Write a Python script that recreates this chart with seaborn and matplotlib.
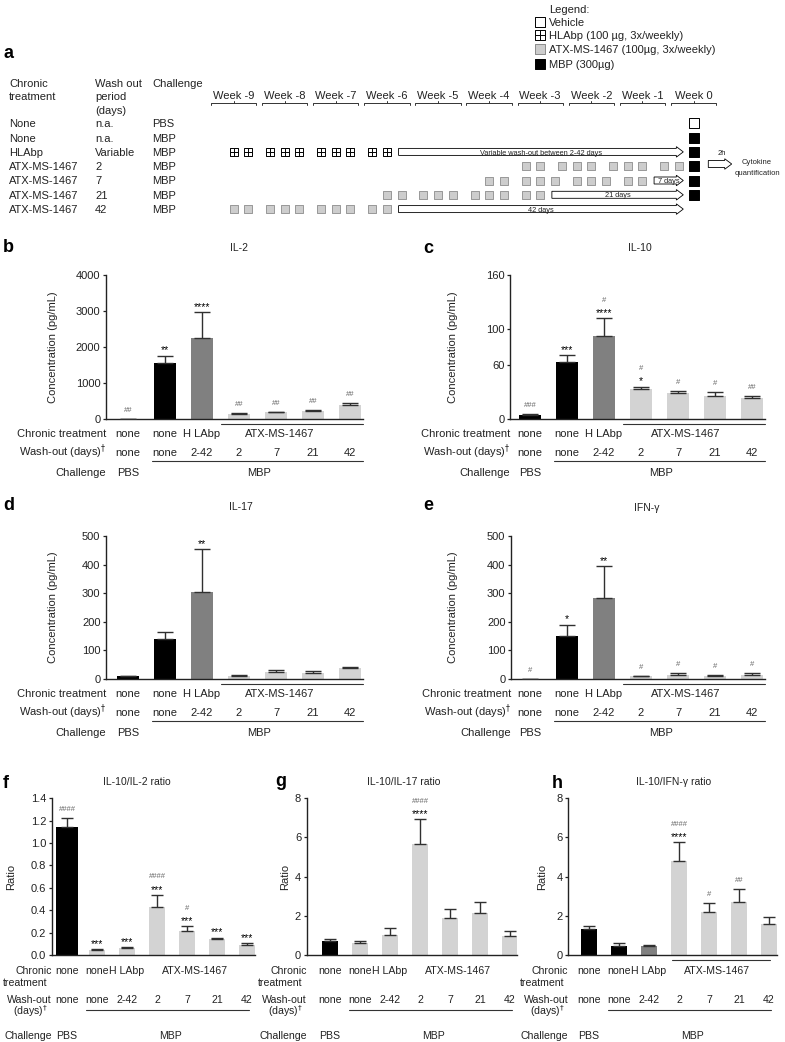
import numpy as np
import pandas as pd
import matplotlib
matplotlib.use("Agg")
import matplotlib.pyplot as plt
import matplotlib.transforms as mtransforms
from matplotlib.patches import FancyArrow
import seaborn as sns

# ---------------------------------------------------------------- data
groups = ["PBS", "none", "HLAbp", "ATX 2d", "ATX 7d", "ATX 21d", "ATX 42d"]
chronic_labels = ["none", "none", "H LAbp", "", "", "", ""]
washout_labels = ["none", "none", "2-42", "2", "7", "21", "42"]

il2_mean = [5, 1560, 2260, 150, 190, 215, 380]
il2_sem = [0, 200, 700, 25, 15, 30, 60]
il10_mean = [5, 63, 92, 33, 28.5, 25.5, 23]
il10_sem = [0.5, 8, 20, 3, 3, 4.5, 3]
il17_mean = [10, 139, 305, 11, 25, 20, 37]
il17_sem = [1, 26, 150, 3, 6, 7, 6]
ifng_mean = [1, 152, 284, 9, 12.5, 11.5, 14]
ifng_sem = [0, 38, 112, 3, 8, 3.5, 7]
r_il2_mean = [1.14, 0.045, 0.06, 0.43, 0.217, 0.14, 0.09]
r_il2_sem = [0.085, 0.01, 0.014, 0.105, 0.04, 0.015, 0.02]
r_il17_mean = [0.72, 0.60, 1.02, 5.66, 1.90, 2.13, 0.97]
r_il17_sem = [0.10, 0.13, 0.34, 1.26, 0.43, 0.59, 0.27]
r_ifng_mean = [1.31, 0.47, 0.47, 4.81, 2.18, 2.69, 1.57]
r_ifng_sem = [0.19, 0.16, 0.06, 0.94, 0.46, 0.69, 0.35]

il2_stars = ["", "**", "****", "", "", "", ""]
il2_hash = ["##", "", "", "##", "##", "##", "##"]
il10_stars = ["", "***", "****", "*", "", "", ""]
il10_hash = ["###", "", "#", "#", "#", "#", "##"]
il17_stars = ["", "", "**", "", "", "", ""]
il17_hash = ["", "", "", "", "", "", ""]
ifng_stars = ["", "*", "**", "", "", "", ""]
ifng_hash = ["#", "", "", "#", "#", "#", "#"]
r_il2_stars = ["", "***", "***", "***", "***", "***", "***"]
r_il2_hash = ["####", "", "", "####", "#", "", ""]
r_il17_stars = ["", "", "", "****", "", "", ""]
r_il17_hash = ["", "", "", "####", "", "", ""]
r_ifng_stars = ["", "", "", "****", "", "", ""]
r_ifng_hash = ["", "", "", "####", "#", "##", ""]

# schedule (panel a)
weeks = list(range(-9, 1))
sched_treatment = ["None", "None", "HLAbp", "ATX-MS-1467", "ATX-MS-1467", "ATX-MS-1467", "ATX-MS-1467"]
sched_washout = ["n.a.", "n.a.", "Variable", "2", "7", "21", "42"]
sched_challenge = ["PBS", "MBP", "MBP", "MBP", "MBP", "MBP", "MBP"]
dose_pattern = [0, 2, 5, 7, 9, 12, 14, 16, 19, 21]       # days before last dose
last_dose_day = [None, None, -42, -2, -7, -21, -42]
dose_kind = [None, None, "HLAbp", "ATX", "ATX", "ATX", "ATX"]
washout_text = [None, None, "Variable wash-out between 2-42 days", None,
                "7 days", "21 days", "42 days"]
challenge_kind = ["Vehicle", "MBP", "MBP", "MBP", "MBP", "MBP", None]
legend_items = ["Vehicle", "HLAbp (100 µg, 3x/weekly)",
                "ATX-MS-1467 (100µg, 3x/weekly)", "MBP (300µg)"]

# ---------------------------------------------------------------- style
sns.set_theme(style="white")
plt.rcParams['font.family'] = ['Liberation Sans', 'DejaVu Sans']
plt.rcParams['mathtext.fontset'] = 'dejavusans'

BLACK, DARK, LIGHT = "#000000", "#808080", "#d3d3d3"
SQ_ATX = "#cdcdcd"
INK = "#222222"
W, H = 785, 1042
PT = 100 / 72

fig = plt.figure(figsize=(W / 100, H / 100), dpi=100)
fig.patch.set_facecolor("white")

ax_px = fig.add_axes([0, 0, 1, 1], zorder=10)
ax_px.set_xlim(0, W)
ax_px.set_ylim(H, 0)
ax_px.axis("off")


def put(x, yc, s, size=8, tr=None, ax=None, **kw):
    a = ax_px if ax is None else ax
    tr = a.transData if tr is None else tr
    kw.setdefault("color", INK)
    return a.text(x, yc + 0.36 * size * PT, s, fontsize=size, va="baseline",
                  transform=tr, **kw)


# ---------------------------------------------------------------- panel a
ax_a = fig.add_axes([0, 1 - 230 / H, 1, 230 / H])
ax_a.set_xlim(-693.5 / 7.3, (W - 693.5) / 7.3)
ax_a.set_ylim(230, 0)
ax_a.axis("off")

row_y = [123.3 + 14.3 * i for i in range(7)]
put(9, 82.7, "Chronic"); put(9, 95.7, "treatment")
put(95, 82.7, "Wash out"); put(95, 95.9, "period"); put(95, 109.5, "(days)")
put(152, 82.7, "Challenge")
for i in range(7):
    put(9, row_y[i], sched_treatment[i])
    put(95, row_y[i], sched_washout[i])
    put(152, row_y[i], sched_challenge[i])

for w in weeks:
    c = 7 * w
    put(c, 95, f"Week {w}", tr=ax_a.transData, ax=ax_a, ha="center")
    ax_a.plot([c - 3.1, c - 3.1, c + 3.1, c + 3.1], [104.8, 102.5, 102.5, 104.8],
              color="#333333", lw=0.7)
    ax_a.plot([c, c], [102.5, 100.6], color="#333333", lw=0.7)

SQ = 32
for i in range(7):
    if last_dose_day[i] is None:
        continue
    xs = [last_dose_day[i] - d for d in dose_pattern]
    ys = [row_y[i]] * len(xs)
    if dose_kind[i] == "HLAbp":
        ax_a.scatter(xs, ys, marker="s", s=SQ, facecolor="white", edgecolor="black",
                     linewidth=0.7, zorder=3)
        ax_a.scatter(xs, ys, marker="+", s=SQ, color="black", linewidth=0.7, zorder=4)
    else:
        ax_a.scatter(xs, ys, marker="s", s=SQ, facecolor=SQ_ATX, edgecolor="#8c8c8c",
                     linewidth=0.6, zorder=3)

for i in range(7):
    t = washout_text[i]
    if t is None:
        continue
    start, end = last_dose_day[i] + 1.6, -1.4
    ax_a.add_patch(FancyArrow(start, row_y[i], end - start, 0, width=7, head_width=10.5,
                              head_length=0.95, length_includes_head=True,
                              facecolor="white", edgecolor="black", linewidth=0.6,
                              zorder=2))
    put((start + end) / 2, row_y[i], t, size=5.3, tr=ax_a.transData, ax=ax_a,
        ha="center", zorder=5)

for i in range(7):
    k = challenge_kind[i]
    if k is None:
        continue
    ax_a.scatter([0], [row_y[i]], marker="s", s=42,
                 facecolor="white" if k == "Vehicle" else "black",
                 edgecolor="black", linewidth=0.7, zorder=3)

# 2h arrow + readout
ax_px.add_patch(FancyArrow(708.3, 164, 23.4, 0, width=7, head_width=10.5, head_length=7,
                           length_includes_head=True, facecolor="white",
                           edgecolor="black", linewidth=0.6))
put(722, 152, "2h", size=5.5, ha="center")
put(757, 161.7, "Cytokine", size=5.5, ha="center")
put(757, 172.3, "quantification", size=5.5, ha="center")

# legend
leg_y = [21.5, 35, 49, 63.5]
put(549, 9, "Legend:")
leg_fc = ["white", "white", SQ_ATX, "black"]
leg_ec = ["black", "black", "#8c8c8c", "black"]
for j, lab in enumerate(legend_items):
    ax_px.scatter([540], [leg_y[j]], marker="s", s=46, facecolor=leg_fc[j],
                  edgecolor=leg_ec[j], linewidth=0.7, zorder=3)
    if j == 1:
        ax_px.scatter([540], [leg_y[j]], marker="+", s=46, color="black",
                      linewidth=0.7, zorder=4)
    put(549, leg_y[j], lab)

# ---------------------------------------------------------------- bar panels
def bar_panel(box, cat0, step, vals, errs, colors, widths, ylim, yticks, yticklabels,
              stars, hashes, capsize):
    x0, x1, top, bot = box
    ax = fig.add_axes([x0 / W, 1 - bot / H, (x1 - x0) / W, (bot - top) / H])
    df = pd.DataFrame({"group": groups, "value": vals, "width": widths})
    pal = dict(zip(groups, colors))
    for wv in sorted(set(widths), reverse=True):
        sub = df[df["width"] == wv]
        sns.barplot(data=sub, x="group", y="value", hue="group", order=groups,
                    hue_order=groups, palette=pal, width=wv, saturation=1,
                    errorbar=None, legend=False, linewidth=0, ax=ax)
    pos = np.arange(len(groups))
    ax.errorbar(pos, vals, yerr=[np.zeros(len(vals)), errs], fmt="none",
                ecolor="#303030", elinewidth=1.0, capsize=capsize, capthick=1.0,
                zorder=3)
    ax.set_xlim((x0 - cat0) / step, (x1 - cat0) / step)
    ax.set_ylim(*ylim)
    ax.set_xticks([])
    ax.set_yticks(yticks)
    ax.set_yticklabels(yticklabels)
    ax.set_xlabel("")
    ax.set_ylabel("")
    ax.tick_params(axis="y", left=True, length=2.5, width=0.9, pad=1.5,
                   labelsize=8, colors=INK)
    sns.despine(ax=ax)
    for sp in ("left", "bottom"):
        ax.spines[sp].set_linewidth(1.0)
        ax.spines[sp].set_color(INK)
    ax.set_facecolor("none")
    for i in range(len(groups)):
        top_v = vals[i] + errs[i]
        if stars[i]:
            ax.annotate(stars[i], (i, top_v), xytext=(0, 1.5), textcoords="offset points",
                        ha="center", va="baseline", fontsize=7.5, color="black")
        if hashes[i]:
            off = 12.0 if stars[i] else 5.0
            ax.annotate(hashes[i], (i, top_v), xytext=(0, off), textcoords="offset points",
                        ha="center", va="baseline", fontsize=5.5, color="#666666")
    return ax


def table_wide(ax, bot, atx_x, mbp_x):
    bx = mtransforms.blended_transform_factory(ax.transData, ax_px.transData)
    ba = mtransforms.blended_transform_factory(ax.transAxes, ax_px.transData)
    r1, r2, r3 = bot + 14.3, bot + 32.7, bot + 52.7
    put(0.0, r1, "Chronic treatment", tr=ba, ha="right")
    put(0.0, r2, r"Wash-out (days)$^{\dagger}$", tr=ba, ha="right")
    put(0.0, r3, "Challenge", tr=ba, ha="right")
    for i in range(len(groups)):
        if chronic_labels[i]:
            put(i, r1, chronic_labels[i], tr=bx, ha="center")
        put(i, r2, washout_labels[i], tr=bx, ha="center")
    put(atx_x, r1, "ATX-MS-1467", tr=bx, ha="center")
    put(0, r3, "PBS", tr=bx, ha="center")
    put(mbp_x, r3, "MBP", tr=bx, ha="center")
    xr = ax.get_xlim()[1]
    ax_px.plot([2.5, xr], [bot + 5.3] * 2, transform=bx, color="#333333", lw=0.8,
               clip_on=False)
    ax_px.plot([0.64, xr], [bot + 42] * 2, transform=bx, color="#333333", lw=0.8,
               clip_on=False)


def table_narrow(ax, bot, atx_line):
    bx = mtransforms.blended_transform_factory(ax.transData, ax_px.transData)
    ba = mtransforms.blended_transform_factory(ax.transAxes, ax_px.transData)
    ba2 = mtransforms.offset_copy(ba, fig=fig, x=-4, y=0, units="dots")
    fs = 7.6
    put(0.0, bot + 15.3, "Chronic", tr=ba, ha="right", size=fs)
    put(0.0, bot + 27.3, "treatment", tr=ba2, ha="right", size=fs)
    put(0.0, bot + 44.3, "Wash-out", tr=ba, ha="right", size=fs)
    put(0.0, bot + 56.3, r"(days)$^{\dagger}$", tr=ba2, ha="right", size=fs)
    put(0.0, bot + 80.0, "Challenge", tr=ba, ha="right", size=fs)
    for i in range(len(groups)):
        if chronic_labels[i]:
            put(i, bot + 15.3, chronic_labels[i], tr=bx, ha="center", size=fs)
        put(i, bot + 44.3, washout_labels[i], tr=bx, ha="center", size=fs)
    put(4.27, bot + 15.3, "ATX-MS-1467", tr=bx, ha="center", size=fs)
    put(0, bot + 80.0, "PBS", tr=bx, ha="center", size=fs)
    put(3.45, bot + 80.0, "MBP", tr=bx, ha="center", size=fs)
    ax_px.plot([0.62, 6.08], [bot + 55] * 2, transform=bx, color="#333333", lw=0.8,
               clip_on=False)
    if atx_line:
        ax_px.plot([2.76, 6.03], [bot + 5] * 2, transform=bx, color="#333333", lw=0.8,
                   clip_on=False)


cols_cyt = [BLACK, BLACK, DARK, LIGHT, LIGHT, LIGHT, LIGHT]
cols_fg = [BLACK, LIGHT, LIGHT, LIGHT, LIGHT, LIGHT, LIGHT]
w_wide = [0.6] * 7
w_nar = [0.53] * 7
w_f = [0.72] + [0.53] * 6

ax_b = bar_panel((106, 363, 275, 419), 128, 37, il2_mean, il2_sem, cols_cyt, w_wide,
                 (0, 4000), [0, 1000, 2000, 3000, 4000],
                 ["0", "1000", "2000", "3000", "4000"], il2_stars, il2_hash, 5.5)
table_wide(ax_b, 419, 4.1, 3.55)
ax_c = bar_panel((510, 765, 275, 419), 530, 37, il10_mean, il10_sem, cols_cyt, w_wide,
                 (0, 160), [0, 60, 100, 160], ["0", "60", "100", "160"],
                 il10_stars, il10_hash, 5.5)
table_wide(ax_c, 419, 4.2, 3.55)
ax_d = bar_panel((106, 363, 536, 679), 128, 37, il17_mean, il17_sem, cols_cyt, w_wide,
                 (0, 500), [0, 100, 200, 300, 400, 500],
                 ["0", "100", "200", "300", "400", "500"], il17_stars, il17_hash, 5.5)
table_wide(ax_d, 679, 4.1, 3.55)
ax_e = bar_panel((511, 765, 536, 679), 530, 37, ifng_mean, ifng_sem, cols_cyt, w_wide,
                 (0, 500), [0, 100, 200, 300, 400, 500],
                 ["0", "100", "200", "300", "400", "500"], ifng_stars, ifng_hash, 5.5)
table_wide(ax_e, 679, 4.2, 3.55)

f_ticks = [0, 0.2, 0.4, 0.6, 0.8, 1.0, 1.2, 1.4]
ax_f = bar_panel((51.7, 255, 798.3, 955), 67, 30, r_il2_mean, r_il2_sem, cols_fg, w_f,
                 (0, 1.4), f_ticks, [f"{v:.1f}" for v in f_ticks],
                 r_il2_stars, r_il2_hash, 4.0)
table_narrow(ax_f, 955, False)
ax_g = bar_panel((306.7, 516.7, 798.3, 955), 330, 30, r_il17_mean, r_il17_sem, cols_fg,
                 w_nar, (0, 8), [0, 2, 4, 6, 8], ["0", "2", "4", "6", "8"],
                 r_il17_stars, r_il17_hash, 4.0)
table_narrow(ax_g, 955, False)
ax_h = bar_panel((568.3, 777, 798.3, 955), 589, 30, r_ifng_mean, r_ifng_sem, cols_cyt,
                 w_nar, (0, 8), [0, 2, 4, 6, 8], ["0", "2", "4", "6", "8"],
                 r_ifng_stars, r_ifng_hash, 4.0)
table_narrow(ax_h, 955, True)

# y labels
for x, y in [(52.5, 347), (453, 347), (52.5, 607.5), (453, 607.5)]:
    ax_px.text(x, y, "Concentration (pg/mL)", rotation=90, ha="center", va="center",
               fontsize=8, color=INK)
for x in (11, 285, 542):
    ax_px.text(x, 876.6, "Ratio", rotation=90, ha="center", va="center", fontsize=8,
               color=INK)

# titles
for x, y, s in [(239, 247.7, "IL-2"), (640, 247.2, "IL-10"), (241, 506.7, "IL-17"),
                (647, 507.5, "IFN-γ"), (137, 781.7, "IL-10/IL-2 ratio"),
                (404, 781.7, "IL-10/IL-17 ratio"), (674, 781.7, "IL-10/IFN-γ ratio")]:
    put(x, y, s, size=7.5, ha="center")

# panel letters
for x, yb, s in [(4, 58, "a"), (3, 252, "b"), (423, 253, "c"), (3, 510, "d"),
                 (423, 510, "e"), (3, 788, "f"), (275, 786, "g"), (552, 788, "h")]:
    ax_px.text(x, yb, s, fontsize=13, fontweight="bold", va="baseline", ha="left",
               color="black")

fig.savefig("out.png", dpi=100)
